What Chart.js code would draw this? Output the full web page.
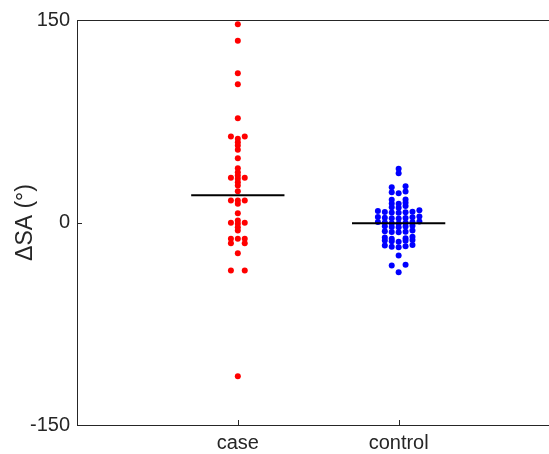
<!DOCTYPE html>
<html>
<head>
<meta charset="utf-8">
<script src="https://cdn.jsdelivr.net/npm/chart.js@4"></script>
<style>
html, body { margin: 0; padding: 0; background: #fff; overflow: hidden; }
</style>
</head>
<body>
<canvas id="myChart" width="549" height="454"></canvas>
<script>
const groupNames = ["case", "control"];
const yTicks = [-150, 0, 150];
const caseValues = [
    -113.9, -35.6, -35.6, -22.7, -15.3, -15.3, -12.1, -12.1, -12.1, -5.9, -3.5, -1.0, -0.2, -0.2, 1.5,
    6.9, 13.9, 16.3, 16.3, 16.3, 23.2, 27.4, 29.9, 32.4, 33.1, 33.1, 34.8, 37.3, 40.2, 47.6,
    53.9, 57.0, 59.5, 62.0, 63.7, 63.7, 77.3, 102.4, 110.6, 134.6, 146.9,
];
const controlValues = [
    -36.8, -31.9, -31.3, -24.4, -18.3, -18.0, -17.5, -17.0, -16.6, -14.2, -13.8, -13.6, -13.3, -13.0,
    -12.0, -11.6, -11.2, -10.5, -7.3, -7.0, -6.8, -6.5, -6.0, -3.6, -3.3, -3.0, -2.7, -2.4,
    -0.8, -0.5, -0.2, 0.0, 0.2, 0.4, 0.8, 3.0, 3.2, 3.4, 3.6, 3.8, 4.0, 4.4,
    7.2, 7.4, 7.6, 7.8, 8.0, 8.5, 9.0, 10.9, 11.3, 12.2, 13.9, 14.1, 14.6, 16.8, 17.0,
    21.7, 22.5, 23.0, 26.2, 26.9, 36.5, 39.8,
];
const groupMedians = [20.2, -0.5];

const textColor = "#262626";
const swarmGap = 2.1;    // values closer than this get spread sideways
const swarmStep = 0.043; // sideways step, x units
const lineHalf = 0.29;

// simple beeswarm: near-equal values share a row and spread out from the centre
function swarm(values, center) {
    let sorted = values.slice().sort((a, b) => a - b);
    let points = [];
    let i = 0;
    while (i < sorted.length) {
        let row = [sorted[i]];
        let j = i + 1;
        while (j < sorted.length && sorted[j] - sorted[i] < swarmGap) {
            row.push(sorted[j]);
            j++;
        }
        let odd = row.length % 2 == 1;
        row.forEach((v, k) => {
            let slot;
            if (odd) {
                slot = k == 0 ? 0 : (k % 2 == 1 ? -1 : 1) * Math.ceil(k / 2);
            } else {
                slot = (k % 2 == 0 ? -1 : 1) * (Math.floor(k / 2) + 1);
            }
            points.push({ x: center + slot * swarmStep, y: v });
        });
        i = j;
    }
    return points;
}

function medianLine(center, value) {
    return [
        { x: center - lineHalf, y: value },
        { x: center + lineHalf, y: value },
    ];
}

const frame = {
    id: "frame",
    afterDraw(chart) {
        let ctx = chart.ctx;
        let area = chart.chartArea;
        let xs = chart.scales.x;
        let ys = chart.scales.y;
        ctx.save();
        ctx.strokeStyle = textColor;
        ctx.lineWidth = 1;
        ctx.beginPath();
        ctx.moveTo(area.left, area.top + 0.5);
        ctx.lineTo(chart.width, area.top + 0.5);
        xs.ticks.forEach((t) => {
            let px = Math.round(xs.getPixelForValue(t.value)) + 0.5;
            ctx.moveTo(px, area.bottom);
            ctx.lineTo(px, area.bottom - 5);
        });
        ys.ticks.forEach((t) => {
            let py = Math.round(ys.getPixelForValue(t.value)) + 0.5;
            ctx.moveTo(area.left, py);
            ctx.lineTo(area.left + 5, py);
        });
        ctx.moveTo(area.right, area.bottom + 0.5);
        ctx.lineTo(chart.width, area.bottom + 0.5);
        ctx.stroke();
        ctx.restore();
    },
};

new Chart(document.getElementById("myChart"), {
    type: "scatter",
    data: {
        datasets: [
            {
                data: swarm(caseValues, 1),
                backgroundColor: "#ff0000",
                borderWidth: 0,
                pointRadius: 3,
                order: 2,
            },
            {
                data: swarm(controlValues, 2),
                backgroundColor: "#0000ff",
                borderWidth: 0,
                pointRadius: 3,
                order: 2,
            },
            {
                type: "line",
                data: medianLine(1, groupMedians[0]),
                borderColor: "#000000",
                borderWidth: 2,
                pointRadius: 0,
                order: 1,
            },
            {
                type: "line",
                data: medianLine(2, groupMedians[1]),
                borderColor: "#000000",
                borderWidth: 2,
                pointRadius: 0,
                order: 1,
            },
        ],
    },
    options: {
        responsive: false,
        devicePixelRatio: 1,
        animation: false,
        layout: { padding: { top: 20, right: 0, bottom: 0, left: 0 } },
        plugins: {
            legend: { display: false },
            tooltip: { enabled: false },
        },
        scales: {
            x: {
                type: "linear",
                min: 0,
                max: 2.91,
                grid: { display: false, drawTicks: false },
                border: { display: true, color: textColor, width: 1 },
                afterBuildTicks: (scale) => {
                    scale.ticks = groupNames.map((n, i) => ({ value: i + 1 }));
                },
                afterFit: (scale) => {
                    scale.height = 29;
                },
                ticks: {
                    color: textColor,
                    padding: 6,
                    maxRotation: 0,
                    font: { family: "'Liberation Sans', Arial", size: 20 },
                    callback: (v) => groupNames[v - 1],
                },
            },
            y: {
                min: -150,
                max: 150,
                grid: { display: false, drawTicks: false },
                border: { display: true, color: textColor, width: 1 },
                afterBuildTicks: (scale) => {
                    scale.ticks = yTicks.map((v) => ({ value: v }));
                },
                afterFit: (scale) => {
                    scale.width = 77;
                },
                ticks: {
                    color: textColor,
                    padding: 7,
                    font: { family: "'Liberation Sans', Arial", size: 20 },
                },
                title: {
                    display: true,
                    text: "ΔSA (°)",
                    color: textColor,
                    padding: { top: 12, bottom: 0 },
                    font: { family: "'Liberation Sans', Arial", size: 23 },
                },
            },
        },
    },
    plugins: [frame],
});
</script>
</body>
</html>
